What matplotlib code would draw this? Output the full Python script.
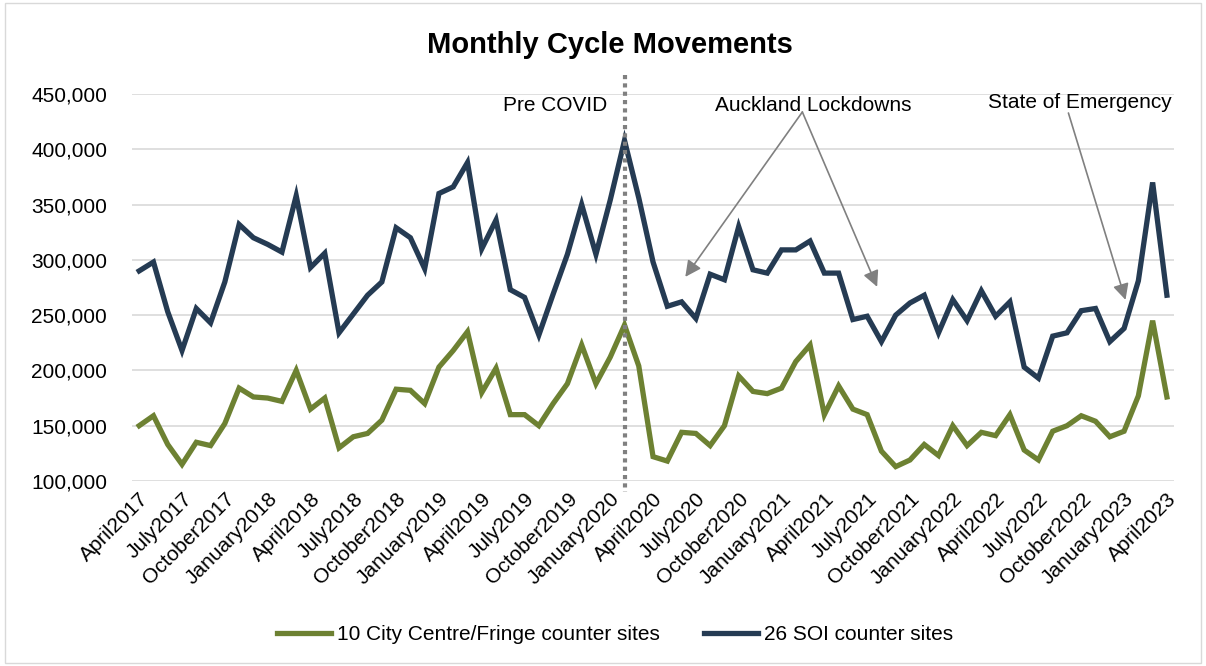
import matplotlib
matplotlib.use("Agg")
import matplotlib.pyplot as plt
from matplotlib.patches import Rectangle

plt.rcParams['font.family'] = ['Liberation Sans', 'DejaVu Sans']

months = ["April", "May", "June", "July", "August", "September", "October",
          "November", "December", "January", "February", "March"]
labels = []
year = 2017
for i in range(73):
    m = months[i % 12]
    if m == "January":
        year += 1
    labels.append(f"{m}{year}")

soi = [290000, 298000, 253000, 218000, 256000, 243000, 280000, 332000, 320000, 314000,
       307000, 358000, 293000, 306000, 234000, 251000, 268000, 280000, 329000, 320000,
       292000, 360000, 366000, 388000, 310000, 336000, 273000, 266000, 232000, 269000,
       305000, 350000, 305000, 354000, 408000, 356000, 298000, 258000, 262000, 247000,
       287000, 282000, 330000, 291000, 288000, 309000, 309000, 317000, 288000, 288000,
       246000, 249000, 226000, 250000, 261000, 268000, 234000, 264000, 245000, 272000,
       249000, 262000, 203000, 193000, 231000, 234000, 254000, 256000, 226000, 238000,
       281000, 370000, 268000]

city = [150000, 159000, 133000, 115000, 135000, 132000, 152000, 184000, 176000, 175000,
        172000, 200000, 165000, 175000, 130000, 140000, 143000, 155000, 183000, 182000,
        170000, 203000, 218000, 235000, 180000, 202000, 160000, 160000, 150000, 170000,
        188000, 223000, 188000, 212000, 241000, 204000, 122000, 118000, 144000, 143000,
        132000, 150000, 195000, 181000, 179000, 184000, 208000, 223000, 160000, 186000,
        165000, 160000, 127000, 113000, 119000, 133000, 123000, 150000, 132000, 144000,
        141000, 160000, 128000, 119000, 145000, 150000, 159000, 154000, 140000, 145000,
        177000, 245000, 176000]

series_names = ["10 City Centre/Fringe counter sites", "26 SOI counter sites"]
colors = ["#6D8132", "#253B53"]
FS = 15

fig = plt.figure(figsize=(12.06, 6.66), dpi=100)
ax = fig.add_axes([0.1095, 0.2778, 0.8640, 0.5811])

x = list(range(len(labels)))
ax.plot(x, city, color=colors[0], lw=3.8, label=series_names[0], solid_joinstyle='miter')
ax.plot(x, soi, color=colors[1], lw=3.8, label=series_names[1], solid_joinstyle='miter')

ax.set_xlim(-0.5, 72.5)
ax.set_ylim(100000, 450000)
ax.set_yticks(range(100000, 450001, 50000))
ax.set_yticklabels([f"{v:,}" for v in range(100000, 450001, 50000)], fontsize=FS)
ax.set_xticks(x[::3])
ax.set_xticklabels(labels[::3], rotation=45, ha='right', va='top',
                   rotation_mode='anchor', fontsize=FS)
ax.tick_params(axis='y', length=0, pad=18)
ax.tick_params(axis='x', length=0, pad=6)
ax.grid(axis='y', color='#D9D9D9', lw=1.2)
ax.set_axisbelow(True)
for s in ax.spines.values():
    s.set_visible(False)

# Pre COVID dotted line
ax.plot([34, 34], [467000, 90000], color='#808080', lw=3, ls=(0, (1, 1)), clip_on=False)
ax.text(32.8, 440000, "Pre COVID", ha='right', va='center', fontsize=FS)

arrow = dict(arrowstyle='-|>', color='#808080', lw=1.2, mutation_scale=24, shrinkA=0, shrinkB=0)
ax.text(47.2, 440000, "Auckland Lockdowns", ha='center', va='center', fontsize=FS)
ax.annotate("", xy=(38.26, 284600), xytext=(46.46, 433700), arrowprops=arrow)
ax.annotate("", xy=(51.7, 275600), xytext=(46.46, 433700), arrowprops=arrow)
ax.text(65.9, 441900, "State of Emergency", ha='center', va='center', fontsize=FS)
ax.annotate("", xy=(69.1, 263800), xytext=(65.1, 432800), arrowprops=arrow)

fig.suptitle("Monthly Cycle Movements", x=0.506, y=0.932, va='center',
             fontsize=21, fontweight='bold')

fig.legend(loc='center', bbox_to_anchor=(615 / 1206, 1 - 635 / 666), ncol=2,
           frameon=False, fontsize=FS, handlelength=2.6, columnspacing=2.1,
           handletextpad=0.3)

fig.patches.append(Rectangle((0.004, 0.004), 0.992, 0.992, transform=fig.transFigure,
                             fill=False, edgecolor='#D9D9D9', lw=1))

fig.savefig("out.png", dpi=100)
